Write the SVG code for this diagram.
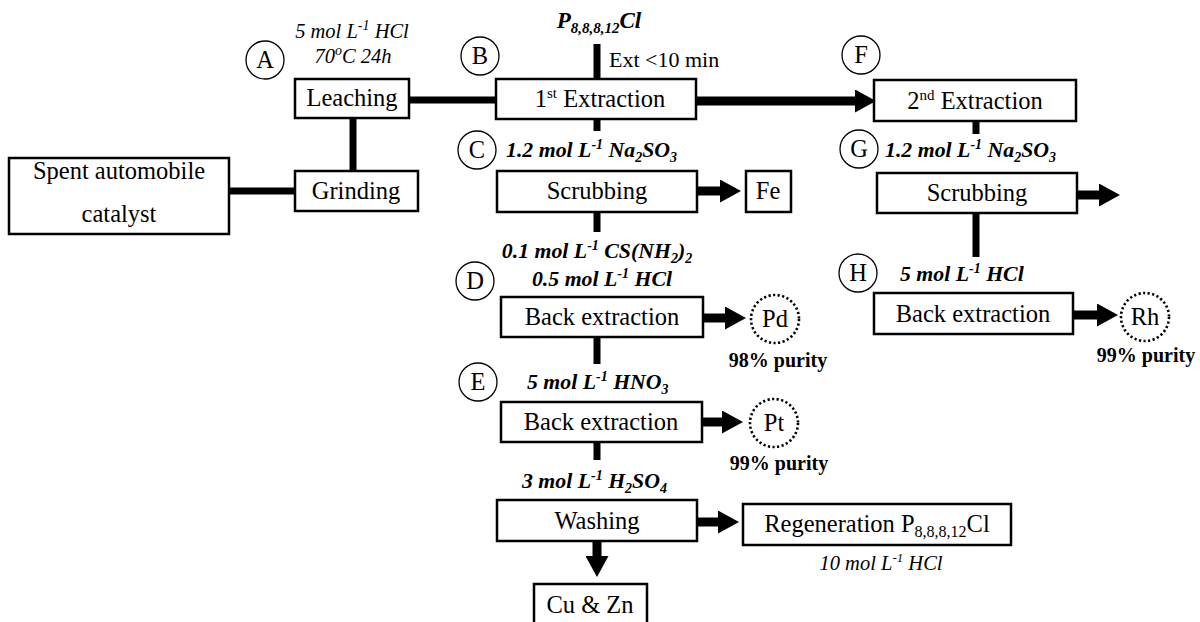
<svg xmlns="http://www.w3.org/2000/svg" width="1200" height="622" viewBox="0 0 1200 622">
  <style>
    text { font-family: "Liberation Serif", "Times New Roman", serif; fill: #000; }
    .lbl { font-size: 24.5px; text-anchor: middle; }
    .cond { font-size: 20.5px; font-style: italic; }
    .condb { font-size: 21.8px; font-style: italic; font-weight: bold; }
    .pur { font-size: 20px; font-weight: bold; text-anchor: middle; }
    .box { fill: #fff; stroke: #000; stroke-width: 2.5; }
    .tag { fill: #fff; stroke: #000; stroke-width: 1.3; }
    .dot { fill: none; stroke: #000; stroke-width: 2.6; stroke-dasharray: 2.2 2.4; }
    .link { stroke: #000; stroke-width: 7; fill: none; }
    .arrow { stroke: #000; stroke-width: 9; fill: none; marker-end: url(#head); }
    .mid { text-anchor: middle; }
  </style>
  <defs>
    <marker id="head" markerUnits="userSpaceOnUse" markerWidth="21" markerHeight="23" refX="0" refY="11.5" orient="auto">
      <path d="M0,0 L21,11.5 L0,23 z" fill="#000"/>
    </marker>
  </defs>

  <!-- connectors -->
  <g id="connectors">
    <line class="link" x1="229" y1="191" x2="295" y2="191"/>
    <line class="link" x1="353" y1="118" x2="353" y2="171"/>
    <line class="link" x1="409" y1="100" x2="496" y2="100"/>
    <line class="link" x1="597" y1="44" x2="597" y2="79"/>
    <line class="link" x1="597" y1="119" x2="597" y2="131"/>
    <line class="link" x1="597" y1="212" x2="597" y2="232"/>
    <line class="link" x1="597" y1="337" x2="597" y2="364"/>
    <line class="link" x1="597" y1="442" x2="597" y2="460"/>
    <line class="link" x1="976" y1="121" x2="976" y2="134"/>
    <line class="link" x1="976" y1="213" x2="976" y2="257"/>
    <line class="arrow" x1="696" y1="101" x2="855" y2="101"/>
    <line class="arrow" x1="697" y1="191" x2="720" y2="191"/>
    <line class="arrow" x1="1077" y1="195" x2="1099" y2="195"/>
    <line class="arrow" x1="703" y1="318" x2="725" y2="318"/>
    <line class="arrow" x1="702" y1="422" x2="722" y2="422"/>
    <line class="arrow" x1="1073" y1="315" x2="1097" y2="315"/>
    <line class="arrow" x1="697" y1="522" x2="718" y2="522"/>
    <line class="arrow" x1="597" y1="541" x2="597" y2="556"/>
  </g>

  <!-- source material -->
  <g id="spent">
    <rect class="box" x="9" y="158" width="220" height="76"/>
    <text class="lbl" x="119" y="179">Spent automobile</text>
    <text class="lbl" x="119" y="222">catalyst</text>
  </g>

  <g id="grinding">
    <rect class="box" x="295" y="171" width="123" height="40"/>
    <text class="lbl" x="356" y="199">Grinding</text>
  </g>

  <g id="leaching">
    <rect class="box" x="295" y="79" width="114" height="39"/>
    <text class="lbl" x="352" y="106">Leaching</text>
    <circle class="tag" cx="265" cy="60" r="19"/>
    <text class="lbl" x="265" y="68">A</text>
    <text class="cond mid" x="352" y="38">5 mol L<tspan font-size="14" dy="-8">-1</tspan><tspan dy="8"> HCl</tspan></text>
    <text class="cond mid" x="353" y="63">70<tspan font-size="14" dy="-8">o</tspan><tspan dy="8">C 24h</tspan></text>
  </g>

  <g id="extraction1">
    <rect class="box" x="496" y="79" width="200" height="40"/>
    <text class="lbl" x="600" y="107">1<tspan font-size="15" dy="-9">st</tspan><tspan dy="9"> Extraction</tspan></text>
    <circle class="tag" cx="480" cy="56" r="19"/>
    <text class="lbl" x="480" y="64">B</text>
    <text class="mid" x="599" y="28" font-size="23" font-style="italic" font-weight="bold">P<tspan font-size="15" dy="5">8,8,8,12</tspan><tspan dy="-5">Cl</tspan></text>
    <text x="609" y="67" font-size="22">Ext &lt;10 min</text>
  </g>

  <g id="scrubbing1">
    <rect class="box" x="497" y="171" width="200" height="41"/>
    <text class="lbl" x="597" y="199">Scrubbing</text>
    <circle class="tag" cx="477" cy="150" r="19"/>
    <text class="lbl" x="477" y="158">C</text>
    <text class="condb" x="506" y="157">1.2 mol L<tspan font-size="14" dy="-8">-1</tspan><tspan dy="8"> Na</tspan><tspan font-size="14" dy="5">2</tspan><tspan dy="-5">SO</tspan><tspan font-size="14" dy="5">3</tspan></text>
  </g>

  <g id="fe">
    <rect class="box" x="746" y="171" width="45" height="41"/>
    <text class="lbl" x="768" y="199">Fe</text>
  </g>

  <g id="backextraction-pd">
    <rect class="box" x="501" y="297" width="202" height="40"/>
    <text class="lbl" x="602" y="325">Back extraction</text>
    <circle class="tag" cx="475" cy="281" r="19"/>
    <text class="lbl" x="475" y="289">D</text>
    <text class="condb mid" x="597" y="258">0.1 mol L<tspan font-size="14" dy="-8">-1</tspan><tspan dy="8"> CS(NH</tspan><tspan font-size="14" dy="5">2</tspan><tspan dy="-5">)</tspan><tspan font-size="14" dy="5">2</tspan></text>
    <text class="condb mid" x="602" y="286">0.5 mol L<tspan font-size="14" dy="-8">-1</tspan><tspan dy="8"> HCl</tspan></text>
  </g>

  <g id="pd">
    <circle class="dot" cx="775" cy="319" r="24"/>
    <text class="lbl" x="775" y="327">Pd</text>
    <text class="pur" x="778" y="367">98% purity</text>
  </g>

  <g id="backextraction-pt">
    <rect class="box" x="501" y="402" width="201" height="40"/>
    <text class="lbl" x="601" y="430">Back extraction</text>
    <circle class="tag" cx="478" cy="382" r="19"/>
    <text class="lbl" x="478" y="390">E</text>
    <text class="condb" x="527" y="389">5 mol L<tspan font-size="14" dy="-8">-1</tspan><tspan dy="8"> HNO</tspan><tspan font-size="14" dy="5">3</tspan></text>
  </g>

  <g id="pt">
    <circle class="dot" cx="774" cy="423" r="24"/>
    <text class="lbl" x="774" y="431">Pt</text>
    <text class="pur" x="779" y="470">99% purity</text>
  </g>

  <g id="washing">
    <rect class="box" x="497" y="500" width="200" height="41"/>
    <text class="lbl" x="597" y="529">Washing</text>
    <text class="condb" x="522" y="488">3 mol L<tspan font-size="14" dy="-8">-1</tspan><tspan dy="8"> H</tspan><tspan font-size="14" dy="5">2</tspan><tspan dy="-5">SO</tspan><tspan font-size="14" dy="5">4</tspan></text>
  </g>

  <g id="regeneration">
    <rect class="box" x="743" y="504" width="268" height="41"/>
    <text class="lbl" x="877" y="532">Regeneration P<tspan font-size="16" dy="5">8,8,8,12</tspan><tspan dy="-5">Cl</tspan></text>
    <text class="cond mid" x="881" y="570" font-size="20">10 mol L<tspan font-size="13" dy="-8">-1</tspan><tspan dy="8"> HCl</tspan></text>
  </g>

  <g id="cuzn">
    <rect class="box" x="534" y="584" width="113" height="60"/>
    <text class="lbl" x="590" y="613">Cu &amp; Zn</text>
  </g>

  <g id="extraction2">
    <rect class="box" x="874" y="80" width="202" height="41"/>
    <text class="lbl" x="975" y="109">2<tspan font-size="15" dy="-9">nd</tspan><tspan dy="9"> Extraction</tspan></text>
    <circle class="tag" cx="861" cy="55" r="19"/>
    <text class="lbl" x="861" y="63">F</text>
  </g>

  <g id="scrubbing2">
    <rect class="box" x="877" y="173" width="200" height="40"/>
    <text class="lbl" x="977" y="201">Scrubbing</text>
    <circle class="tag" cx="859" cy="149" r="19"/>
    <text class="lbl" x="859" y="157">G</text>
    <text class="condb" x="885" y="157">1.2 mol L<tspan font-size="14" dy="-8">-1</tspan><tspan dy="8"> Na</tspan><tspan font-size="14" dy="5">2</tspan><tspan dy="-5">SO</tspan><tspan font-size="14" dy="5">3</tspan></text>
  </g>

  <g id="backextraction-rh">
    <rect class="box" x="874" y="293" width="199" height="41"/>
    <text class="lbl" x="973" y="322">Back extraction</text>
    <circle class="tag" cx="858" cy="273" r="19"/>
    <text class="lbl" x="858" y="281">H</text>
    <text class="condb" x="900" y="281">5 mol L<tspan font-size="14" dy="-8">-1</tspan><tspan dy="8"> HCl</tspan></text>
  </g>

  <g id="rh">
    <circle class="dot" cx="1145" cy="317" r="24"/>
    <text class="lbl" x="1145" y="325">Rh</text>
    <text class="pur" x="1146" y="362">99% purity</text>
  </g>
</svg>
